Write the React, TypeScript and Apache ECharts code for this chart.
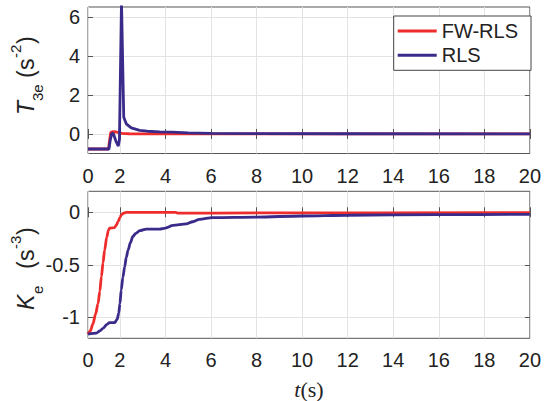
import React, { useEffect, useRef } from "react";
import * as echarts from "echarts";

// ---- data ----
const xTicks = [0.6, 2, 4, 6, 8, 10, 12, 14, 16, 18, 20];
const xTickLabels = ["0", "2", "4", "6", "8", "10", "12", "14", "16", "18", "20"];
const topYTicks = [0, 2, 4, 6];
const botYTicks = [-1, -0.5, 0];
const seriesNames = ["FW-RLS", "RLS"];

const t3eFW: [number, number][] = [
  [0.6, -0.77], [1.5, -0.77], [1.55, -0.3], [1.6, 0.08], [1.7, 0.12], [1.85, 0.1],
  [1.95, 0.06], [2.1, 0.03], [2.4, 0.01], [3, 0], [20, 0],
];
const t3eRLS: [number, number][] = [
  [0.6, -0.77], [1.52, -0.77], [1.58, -0.3], [1.65, 0.05], [1.72, 0.0], [1.82, -0.35],
  [1.93, -0.62], [1.98, -0.3], [2.07, 6.8], [2.17, 0.85], [2.28, 0.52], [2.5, 0.31],
  [2.87, 0.18], [3.2, 0.14], [3.75, 0.11], [4.3, 0.09], [5, 0.06], [6, 0.03],
  [8, 0.015], [12, 0.01], [20, 0.005],
];
const keFW: [number, number][] = [
  [0.6, -1.16], [0.7, -1.13], [0.82, -1.06], [0.93, -0.97], [1.04, -0.87], [1.12, -0.75],
  [1.19, -0.61], [1.26, -0.48], [1.33, -0.36], [1.42, -0.24], [1.5, -0.17], [1.55, -0.15],
  [1.77, -0.145], [1.85, -0.12], [1.92, -0.09], [2.0, -0.05], [2.06, -0.026], [2.15, -0.01],
  [2.28, 0], [4.45, 0], [4.55, -0.008], [8, -0.006], [20, -0.004],
];
const keRLS: [number, number][] = [
  [0.6, -1.16], [0.97, -1.15], [1.12, -1.13], [1.26, -1.105], [1.42, -1.07], [1.55, -1.05],
  [1.77, -1.05], [1.88, -1.02], [1.95, -0.96], [2.0, -0.87], [2.06, -0.74], [2.13, -0.62],
  [2.21, -0.52], [2.28, -0.43], [2.36, -0.36], [2.46, -0.29], [2.57, -0.23], [2.7, -0.2],
  [2.87, -0.175], [3.16, -0.16], [3.74, -0.16], [4.0, -0.15], [4.33, -0.125], [4.91, -0.11],
  [5.2, -0.09], [5.49, -0.068], [6.07, -0.05], [8, -0.045], [10, -0.035], [12, -0.028],
  [16, -0.022], [20, -0.02],
];

const RED = "#ee2c2c";
const BLUE = "#3a2a8a";
const FONT = "'Liberation Sans', Arial, sans-serif";
const SERIF = "'Liberation Serif', 'Times New Roman', serif";
const TXT = "#222";

function xAxes(gridIndex: number) {
  const fmt = (v: number) => {
    const i = xTicks.findIndex((t) => Math.abs(t - v) < 1e-6);
    return i >= 0 ? xTickLabels[i] : "";
  };
  return [
    {
      type: "value", gridIndex, min: 0.6, max: 20, position: "bottom",
      axisLine: { show: false },
      axisTick: { show: true, inside: true, length: 5, customValues: xTicks, lineStyle: { color: "#555" } },
      axisLabel: { customValues: xTicks, formatter: fmt, margin: 12, fontSize: 20, color: TXT, fontFamily: FONT },
      splitLine: { show: true, lineStyle: { color: "#e3e3e3", width: 1 } },
    },
    {
      type: "value", gridIndex, min: 0.6, max: 20, position: "top",
      axisLine: { show: false },
      axisTick: { show: true, inside: true, length: 5, customValues: xTicks, lineStyle: { color: "#555" } },
      axisLabel: { show: false },
      splitLine: { show: false },
    },
  ];
}

function yAxes(gridIndex: number, min: number, max: number, ticks: number[]) {
  return [
    {
      type: "value", gridIndex, min, max, position: "left",
      axisLine: { show: false },
      axisTick: { show: true, inside: true, length: 5, customValues: ticks, lineStyle: { color: "#555" } },
      axisLabel: { customValues: ticks, margin: 8, fontSize: 20, color: TXT, fontFamily: FONT },
      splitLine: { show: true, lineStyle: { color: "#e3e3e3", width: 1 } },
    },
    {
      type: "value", gridIndex, min, max, position: "right",
      axisLine: { show: false },
      axisTick: { show: true, inside: true, length: 5, customValues: ticks, lineStyle: { color: "#555" } },
      axisLabel: { show: false },
      splitLine: { show: false },
    },
  ];
}

function yTitle(x: number, y: number, main: string, sub: string, sup: string, subX: number, parenX: number) {
  const big = 23;
  const small = 15;
  const t = (text: string, lx: number, ly: number, size: number, italic = false) => ({
    type: "text",
    x: lx,
    y: ly,
    style: {
      text, fontSize: size, fontFamily: FONT, fontStyle: italic ? "italic" : "normal",
      fill: TXT, align: "left", verticalAlign: "bottom",
    },
  });
  return {
    type: "group",
    x, y,
    rotation: Math.PI / 2,
    children: [
      t(main, 0, 0, big, true),
      t(sub, subX, 7.8, small),
      t("(", parenX, 0, big),
      t("s", parenX + 8, 0, big),
      t(sup, parenX + 20, -14.2, small),
      t(")", parenX + 34, 0, big),
    ],
  };
}

export default function App() {
  const ref = useRef<HTMLDivElement>(null);
  useEffect(() => {
    if (!ref.current) return;
    const chart = echarts.init(ref.current, undefined, { renderer: "svg" });
    const lineBase = { type: "line", showSymbol: false, symbol: "none" };
    const W = 2.8;
    chart.setOption({
      animation: false,
      backgroundColor: "#fff",
      grid: [
        { left: 88, right: 13, top: 7, height: 146.5, show: true, borderColor: "#555", borderWidth: 1, backgroundColor: "transparent" },
        { left: 88, right: 13, top: 191.3, height: 147, show: true, borderColor: "#555", borderWidth: 1, backgroundColor: "transparent" },
      ],
      xAxis: [...xAxes(0), ...xAxes(1)],
      yAxis: [...yAxes(0, -1, 6.5, topYTicks), ...yAxes(1, -1.2, 0.2, botYTicks)],
      legend: {
        data: seriesNames,
        orient: "vertical",
        right: 13,
        top: 16,
        padding: [4, 13, 4, 4],
        itemGap: 2.3,
        itemWidth: 39,
        itemHeight: 3,
        icon: "rect",
        backgroundColor: "#fff",
        borderColor: "#444",
        borderWidth: 1,
        borderRadius: 0,
        textStyle: { fontSize: 20, fontFamily: FONT, color: TXT, lineHeight: 22 },
      },
      graphic: [
        yTitle(37.5, 115, "T", "3e", "-2", 14, 37),
        yTitle(37.5, 310, "K", "e", "-3", 16, 41),
        {
          type: "text",
          x: 309,
          y: 389,
          style: {
            text: "{it|t}{n|(s)}",
            fontSize: 22,
            fontFamily: SERIF,
            fill: TXT,
            align: "center",
            verticalAlign: "middle",
            rich: {
              it: { fontStyle: "italic", fontFamily: SERIF, fontSize: 22, fill: TXT },
              n: { fontFamily: SERIF, fontSize: 22, fill: TXT },
            },
          },
        },
      ],
      series: [
        { ...lineBase, name: seriesNames[0], xAxisIndex: 0, yAxisIndex: 0, data: t3eFW, color: RED, lineStyle: { width: W, color: RED }, z: 3 },
        { ...lineBase, name: seriesNames[1], xAxisIndex: 0, yAxisIndex: 0, data: t3eRLS, color: BLUE, lineStyle: { width: W, color: BLUE }, z: 4 },
        { ...lineBase, name: seriesNames[0], xAxisIndex: 2, yAxisIndex: 2, data: keFW, color: RED, smooth: 0.3, smoothMonotone: "x", lineStyle: { width: W, color: RED }, z: 3 },
        { ...lineBase, name: seriesNames[1], xAxisIndex: 2, yAxisIndex: 2, data: keRLS, color: BLUE, smooth: 0.3, smoothMonotone: "x", lineStyle: { width: W, color: BLUE }, z: 4 },
      ],
    });
    return () => chart.dispose();
  }, []);
  return (
    <div
      ref={ref}
      style={{ position: "fixed", left: 0, top: 0, width: 544, height: 401, background: "#fff" }}
    />
  );
}
